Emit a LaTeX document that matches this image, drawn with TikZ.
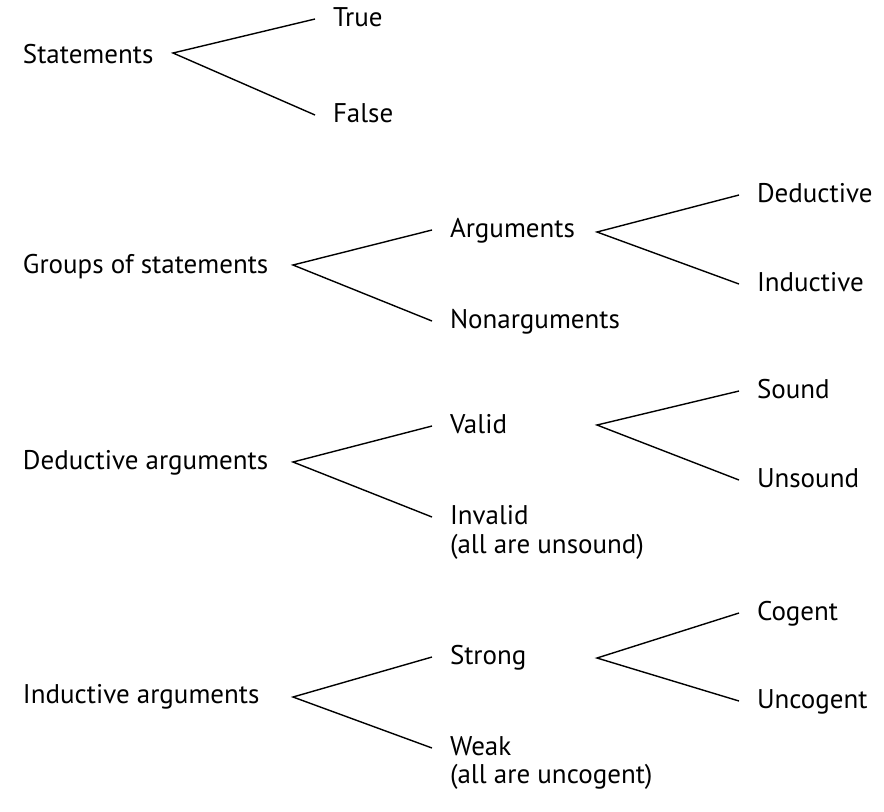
\documentclass[tikz,border=0pt]{standalone}
\usepackage{fontspec}
\setmainfont{PT Sans}
\usepackage{tikz}

\begin{document}
\begin{tikzpicture}[
    x=0.5pt, y=-0.5pt,
    lbl/.style={inner sep=0pt, outer xsep=9pt, outer ysep=0pt, anchor=text,
                text height=7pt, text depth=0pt,
                font=\fontsize{13.5}{16}\selectfont},
    link/.style={line width=0.7pt, black},
]
    \useasboundingbox (0,0) rectangle (884,811);

    % Statements
    \node[lbl] (stmt)  at (23,63)   {Statements};
    \node[lbl] (true)  at (333,26)  {True};
    \node[lbl] (false) at (333,122) {False};
    \coordinate (fstmt) at (173,53);

    % Groups of statements
    \node[lbl] (groups) at (23,273)  {Groups of statements};
    \node[lbl] (args)   at (450,237) {Arguments};
    \node[lbl] (nonargs) at (450,328) {Nonarguments};
    \node[lbl] (ded)    at (757,202) {Deductive};
    \node[lbl] (ind)    at (757,291) {Inductive};
    \coordinate (fgroups) at (293,265);
    \coordinate (fargs)   at (597,232);

    % Deductive arguments
    \node[lbl] (dedargs) at (23,469)  {Deductive arguments};
    \node[lbl] (valid)   at (450,433) {Valid};
    \node[lbl] (invalid) at (450,524) {Invalid};
    \node[lbl] (invnote) at (450,553) {(all are unsound)};
    \node[lbl] (sound)   at (757,398) {Sound};
    \node[lbl] (unsound) at (757,487) {Unsound};
    \coordinate (fdedargs) at (293,462);
    \coordinate (fvalid)   at (597,425);

    % Inductive arguments
    \node[lbl] (indargs)  at (23,703)  {Inductive arguments};
    \node[lbl] (strong)   at (450,664) {Strong};
    \node[lbl] (weak)     at (450,755) {Weak};
    \node[lbl] (weaknote) at (450,783) {(all are uncogent)};
    \node[lbl] (cogent)   at (757,620) {Cogent};
    \node[lbl] (uncogent) at (757,708) {Uncogent};
    \coordinate (findargs) at (293,697);
    \coordinate (fstrong)  at (597,658);

    \draw[link] (true.west)    -- (fstmt)    -- (false.west);
    \draw[link] (args.west)    -- (fgroups)  -- (nonargs.west);
    \draw[link] (ded.west)     -- (fargs)    -- (ind.west);
    \draw[link] (valid.west)   -- (fdedargs) -- (invalid.west);
    \draw[link] (sound.west)   -- (fvalid)   -- (unsound.west);
    \draw[link] (strong.west)  -- (findargs) -- (weak.west);
    \draw[link] (cogent.west)  -- (fstrong)  -- (uncogent.west);
\end{tikzpicture}
\end{document}
